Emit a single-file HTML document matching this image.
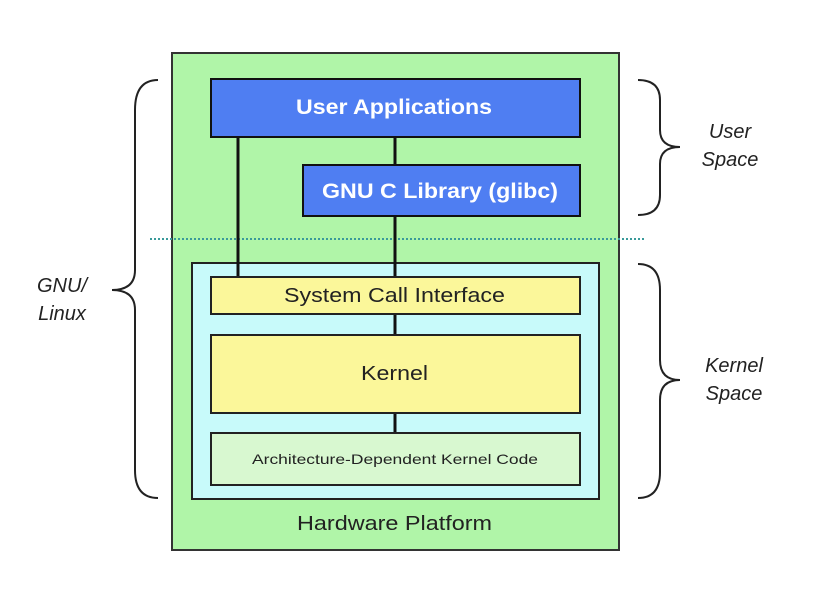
<!DOCTYPE html>
<html><head><style>
body{margin:0;background:#fff;width:828px;height:596px;overflow:hidden;font-family:"Liberation Sans",sans-serif}
</style></head><body>
<svg width="828" height="596" xmlns="http://www.w3.org/2000/svg" font-family="Liberation Sans, sans-serif">
<rect x="172" y="53" width="447" height="497" fill="#b0f5a8" stroke="#333" stroke-width="2"/>
<rect x="192" y="263" width="407" height="236" fill="#c8fafa" stroke="#222" stroke-width="2"/>
<line x1="150" y1="239" x2="646" y2="239" stroke="#3a9a9a" stroke-width="2" stroke-dasharray="2,2"/>
<g stroke="#111" stroke-width="3">
<line x1="238" y1="137" x2="238" y2="277"/>
<line x1="395" y1="137" x2="395" y2="165"/>
<line x1="395" y1="216" x2="395" y2="277"/>
<line x1="395" y1="314" x2="395" y2="335"/>
<line x1="395" y1="413" x2="395" y2="433"/>
</g>
<rect x="211" y="79" width="369" height="58" fill="#4f7ef2" stroke="#111" stroke-width="2"/>
<text x="296" y="114" textLength="196" lengthAdjust="spacingAndGlyphs" font-size="21" font-weight="bold" fill="#fff">User Applications</text>
<rect x="303" y="165" width="277" height="51" fill="#4f7ef2" stroke="#111" stroke-width="2"/>
<text x="322" y="198" textLength="236" lengthAdjust="spacingAndGlyphs" font-size="21" font-weight="bold" fill="#fff">GNU C Library (glibc)</text>
<rect x="211" y="277" width="369" height="37" fill="#fbf79a" stroke="#222" stroke-width="2"/>
<text x="284" y="302" textLength="221" lengthAdjust="spacingAndGlyphs" font-size="20" fill="#222">System Call Interface</text>
<rect x="211" y="335" width="369" height="78" fill="#fbf79a" stroke="#222" stroke-width="2"/>
<text x="361" y="380" textLength="67" lengthAdjust="spacingAndGlyphs" font-size="20" fill="#222">Kernel</text>
<rect x="211" y="433" width="369" height="52" fill="#d8f8d0" stroke="#222" stroke-width="2"/>
<text x="252" y="464" textLength="286" lengthAdjust="spacingAndGlyphs" font-size="14" fill="#222">Architecture-Dependent Kernel Code</text>
<text x="297" y="530" textLength="195" lengthAdjust="spacingAndGlyphs" font-size="20" fill="#222">Hardware Platform</text>
<g fill="none" stroke="#222" stroke-width="2">
<path d="M158,80 Q135,80 135,110 L135,270 Q135,290 112,290 Q135,290 135,310 L135,470 Q135,498 158,498"/>
<path d="M638,80 Q660,80 660,100 L660,130 Q660,147 680,147 Q660,147 660,164 L660,195 Q660,215 638,215"/>
<path d="M638,264 Q660,264 660,290 L660,360 Q660,380 680,380 Q660,380 660,400 L660,472 Q660,498 638,498"/>
</g>
<g font-size="20" font-style="italic" fill="#222" text-anchor="middle">
<text x="62" y="292">GNU/</text><text x="62" y="320">Linux</text>
<text x="730" y="138">User</text><text x="730" y="166">Space</text>
<text x="734" y="372">Kernel</text><text x="734" y="400">Space</text>
</g>
</svg>
</body></html>
